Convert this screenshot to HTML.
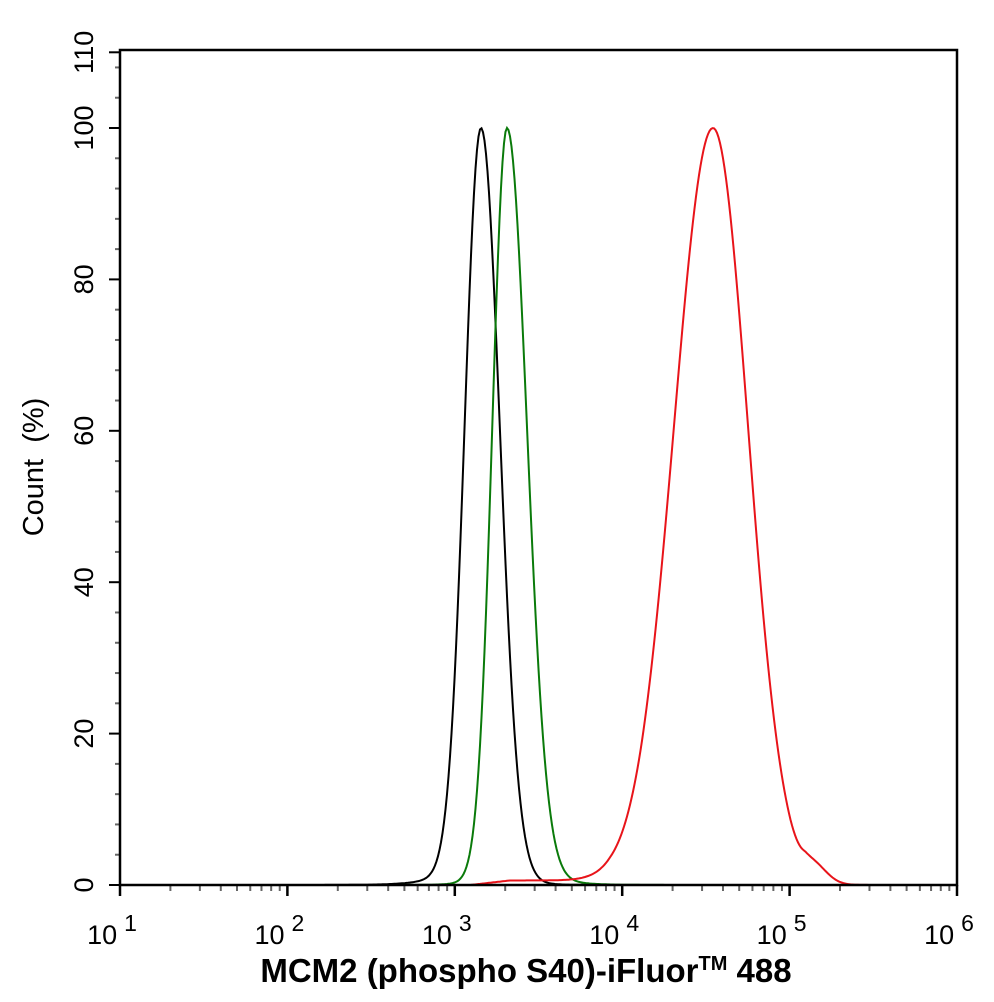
<!DOCTYPE html>
<html><head><meta charset="utf-8"><style>
body{margin:0;background:#fff}
svg{display:block}
text{font-family:"Liberation Sans",Arial,sans-serif}
</style></head><body>
<svg id="s" width="994" height="1002" viewBox="0 0 994 1002" xmlns="http://www.w3.org/2000/svg">
<rect width="994" height="1002" fill="#fff"/>
<g id="ticks"></g>
<path id="k" fill="none" stroke="#000" stroke-width="2"/>
<path id="g" fill="none" stroke="#0a7a0a" stroke-width="2"/>
<path id="r" fill="none" stroke="#e8141a" stroke-width="2"/>
<rect x="120" y="50" width="837" height="835" fill="none" stroke="#000" stroke-width="2.5"/>
<g font-size="27" text-anchor="middle" id="xl"></g>
<g font-size="27" text-anchor="middle" id="yl"></g>
<text transform="translate(43,467) rotate(-90)" font-size="29" text-anchor="middle">Count&#160;&#160;(%)</text>
<text x="526" y="982" font-size="33" font-weight="bold" text-anchor="middle">MCM2 (phospho S40)-iFluor<tspan font-size="20" dy="-12">TM</tspan><tspan dy="12"> 488</tspan></text>
</svg>
<script>
var X0=120,D=167.4,Y0=885,U=7.57,ns="http://www.w3.org/2000/svg";
function el(p,t,a,txt){var e=document.createElementNS(ns,t);for(var k in a)e.setAttribute(k,a[k]);if(txt!=null)e.textContent=txt;document.getElementById(p).appendChild(e);return e;}
for(var d=0;d<=5;d++){var x=X0+d*D;el('ticks','line',{x1:x,x2:x,y1:885,y2:896,stroke:'#000','stroke-width':2.5});
 var t=el('xl','text',{x:x-8,y:944},'10');var ts=document.createElementNS(ns,'tspan');ts.setAttribute('font-size','23');ts.setAttribute('dx','7');ts.setAttribute('dy','-13');ts.textContent=(d+1);t.appendChild(ts);
 if(d<5)for(var m=2;m<10;m++){var xm=x+Math.log10(m)*D;el('ticks','line',{x1:xm,x2:xm,y1:885,y2:891,stroke:'#666','stroke-width':2});}}
for(var v=0;v<=110;v+=2){if(v%4&&v!=110)continue;var y=Y0-v*U;var maj=v%20==0||v==110;
 el('ticks','line',{x1:maj?109:115,x2:120,y1:y,y2:y,stroke:maj?'#000':'#666','stroke-width':2});
 if(maj){el('yl','text',{transform:'translate(93,'+y+') rotate(-90)'},v);}}
function curve(id,pk,sl,sr,extra){var s='';for(var x=X0;x<=957;x+=1.5){var dx=x-pk,sg=dx<0?sl:sr;var v=100*Math.exp(-dx*dx/(2*sg*sg));
 v+=extra?extra(x):0;v=Math.min(v,100);s+=(s?'L':'M')+x.toFixed(1)+','+(Y0-v*U).toFixed(1);}document.getElementById(id).setAttribute('d',s);}
function tail(x,pk,a,w){var d=x-pk;return a*Math.exp(-Math.abs(d)/w)}
curve('k',481,16,18.5,function(x){return x<481?tail(x,481,8,22)*(1-Math.exp(-Math.pow((x-481)/16,2)/2)):tail(x,481,6,18)*(1-Math.exp(-Math.pow((x-481)/18,2)/2));});
curve('g',507,14.5,19.5,function(x){return x<507?tail(x,507,5,16)*(1-Math.exp(-Math.pow((x-507)/14,2)/2)):tail(x,507,8,22)*(1-Math.exp(-Math.pow((x-507)/19,2)/2));});
curve('r',713,39,35,function(x){var e=0;if(x>470&&x<640)e+=0.6*Math.min(1,(x-470)/40)*Math.min(1,(640-x)/30);if(x>790)e+=1.8*Math.exp(-Math.pow((x-815)/18,2))*Math.min(1,(x-790)/15);return e;});
</script>
</body></html>
